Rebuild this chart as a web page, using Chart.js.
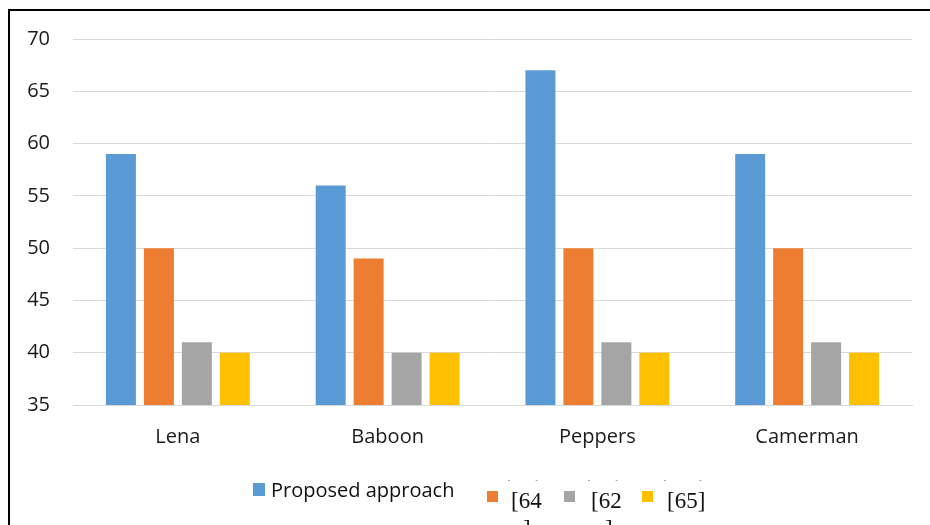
<!DOCTYPE html>
<html>
<head>
<meta charset="utf-8">
<style>
  html, body { margin: 0; padding: 0; background: #fff; }
  #wrap { position: relative; width: 930px; height: 525px; overflow: hidden; }
  canvas { display: block; }
</style>
<script src="https://cdn.jsdelivr.net/npm/chart.js@4.4.1/dist/chart.umd.min.js"></script>
</head>
<body>
<div id="wrap"><canvas id="c" width="930" height="525"></canvas></div>
<script>
// Test images on the category axis
const images = ['Lena', 'Baboon', 'Peppers', 'Camerman'];

// Scores for each method
const proposed = [59, 56, 67, 59];
const ref64 = [50, 49, 50, 50];
const ref62 = [41, 40, 41, 41];
const ref65 = [40, 40, 40, 40];

// Legend texts: first line, and the wrapped remainder on a second line
const seriesNames = ['Proposed approach', '[64', '[62', '[65]'];
const seriesWrap = ['', ']', ']', ''];

// Y axis ticks
const yMin = 35;
const yMax = 70;
const yStep = 5;

const colors = ['#5B9BD5', '#ED7D31', '#A5A5A5', '#FFC000'];
const tickFont = { family: "'Open Sans', 'Noto Sans', sans-serif", size: 20 };

// Frame lines along the top and left edge of the figure
const framePlugin = {
  id: 'frame',
  afterDraw(chart) {
    const ctx = chart.ctx;
    ctx.save();
    ctx.fillStyle = '#000';
    ctx.fillRect(8, 9, 922, 2);
    ctx.fillRect(8, 9, 2, 516);
    ctx.restore();
  }
};

// Legend row beneath the category labels
const legendPlugin = {
  id: 'rowLegend',
  afterDraw(chart) {
    const ctx = chart.ctx;
    const items = chart.data.datasets.map((ds, i) => ({
      text: seriesNames[i], wrap: seriesWrap[i], color: ds.backgroundColor
    }));
    ctx.save();
    // first entry in sans-serif
    ctx.fillStyle = items[0].color;
    ctx.fillRect(253, 483, 12, 13);
    ctx.fillStyle = '#111';
    ctx.font = "20px 'Open Sans', 'Noto Sans', sans-serif";
    ctx.textBaseline = 'alphabetic';
    ctx.textAlign = 'left';
    ctx.fillText(items[0].text, 271, 497);

    // remaining entries in a serif face, wrapped over two lines
    const boxX = [487, 564, 642];
    const textX = [511, 591, 667];
    ctx.font = "23px 'Liberation Serif', 'DejaVu Serif', serif";
    for (let k = 1; k < items.length; k++) {
      const it = items[k];
      const bx = boxX[k - 1], tx = textX[k - 1];
      ctx.fillStyle = it.color;
      ctx.fillRect(bx, 491, 11, 11);
      ctx.fillStyle = '#111';
      ctx.fillText(it.text, tx, 508);
      const w = ctx.measureText(it.text).width;
      if (it.wrap) {
        ctx.fillText(it.wrap, tx + 12 + (k - 1) * 2, 536);
      }
      // faint strokes left above each text
      ctx.fillStyle = '#aaa';
      ctx.fillRect(tx - 3, 480, 2, 1);
      ctx.fillRect(tx + w - 6, 480, 2, 1);
    }
    ctx.restore();
  }
};

new Chart(document.getElementById('c'), {
  type: 'bar',
  data: {
    labels: images,
    datasets: [
      { label: seriesNames[0], data: proposed, backgroundColor: colors[0] },
      { label: seriesNames[1], data: ref64, backgroundColor: colors[1] },
      { label: seriesNames[2], data: ref62, backgroundColor: colors[2] },
      { label: seriesNames[3], data: ref65, backgroundColor: colors[3] }
    ]
  },
  options: {
    responsive: false,
    animation: false,
    devicePixelRatio: 1,
    datasets: {
      bar: { categoryPercentage: 0.724, barPercentage: 0.79 }
    },
    layout: { padding: { top: 39, right: 18, bottom: 0, left: 0 } },
    plugins: {
      legend: { display: false },
      tooltip: { enabled: false }
    },
    scales: {
      x: {
        grid: { display: false, drawTicks: false },
        border: { display: true, color: '#D9D9D9', width: 1 },
        ticks: { color: '#1a1a1a', font: tickFont, padding: 20 },
        afterFit(scale) { scale.height = 120; }
      },
      y: {
        min: yMin,
        max: yMax,
        ticks: { stepSize: yStep, color: '#1a1a1a', font: tickFont, padding: 23 },
        grid: { color: '#D9D9D9', lineWidth: 1, drawTicks: false },
        border: { display: false },
        afterFit(scale) { scale.width = 73; }
      }
    }
  },
  plugins: [framePlugin, legendPlugin]
});
</script>
</body>
</html>
